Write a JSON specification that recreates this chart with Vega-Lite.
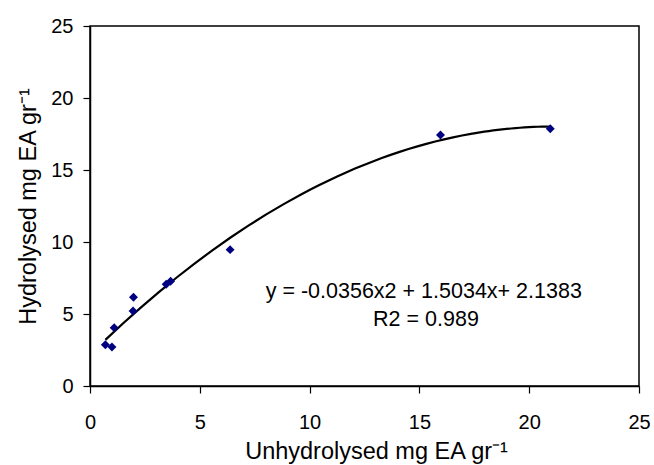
{
  "$schema": "https://vega.github.io/schema/vega-lite/v6.json",
  "width": 549,
  "height": 360,
  "autosize": {"type": "none"},
  "padding": {"left": 90, "top": 26, "right": 15, "bottom": 79},
  "background": "white",
  "config": {
    "view": {"stroke": "black", "strokeWidth": 1.5},
    "font": "Liberation Sans",
    "axis": {
      "grid": false,
      "domainColor": "black",
      "domainWidth": 1.5,
      "tickColor": "black",
      "tickWidth": 1.2,
      "tickSize": 7,
      "labelColor": "black",
      "titleColor": "black",
      "labelFont": "Liberation Sans",
      "titleFont": "Liberation Sans",
      "labelFontSize": 20,
      "titleFontSize": 23.5,
      "titleFontWeight": "normal"
    }
  },
  "data": {
    "values": [
      {"x": 0.70, "y": 2.87},
      {"x": 1.00, "y": 2.71},
      {"x": 1.10, "y": 4.05},
      {"x": 1.98, "y": 6.16},
      {"x": 1.96, "y": 5.21},
      {"x": 3.47, "y": 7.06},
      {"x": 3.67, "y": 7.27},
      {"x": 6.38, "y": 9.47},
      {"x": 15.96, "y": 17.43},
      {"x": 20.96, "y": 17.87}
    ]
  },
  "layer": [
    {
      "transform": [
        {"regression": "y", "on": "x", "method": "poly", "order": 2, "extent": [0.7, 21]}
      ],
      "mark": {"type": "line", "color": "black", "strokeWidth": 2.2},
      "encoding": {
        "x": {"field": "x", "type": "quantitative"},
        "y": {"field": "y", "type": "quantitative"}
      }
    },
    {
      "mark": {"type": "point", "shape": "diamond", "filled": true, "color": "#000080", "size": 80, "opacity": 1},
      "encoding": {
        "x": {
          "field": "x",
          "type": "quantitative",
          "scale": {"domain": [0, 25], "nice": false, "zero": true},
          "axis": {"values": [0, 5, 10, 15, 20, 25], "title": "Unhydrolysed mg EA gr⁻¹", "labelPadding": 19, "titlePadding": 7, "labelFlush": false, "titleX": 286, "titleAlign": "center"}
        },
        "y": {
          "field": "y",
          "type": "quantitative",
          "scale": {"domain": [0, 25], "nice": false, "zero": true},
          "axis": {"values": [0, 5, 10, 15, 20, 25], "title": "Hydrolysed  mg EA gr⁻¹", "labelPadding": 10, "titlePadding": 10}
        }
      }
    },
    {
      "data": {
        "values": [
          {"tx": 15.2, "ty": 6.53, "label": "y = -0.0356x2 + 1.5034x+ 2.1383"},
          {"tx": 15.3, "ty": 4.6, "label": "R2 = 0.989"}
        ]
      },
      "mark": {"type": "text", "fontSize": 21.5, "color": "black", "align": "center", "baseline": "middle", "font": "Liberation Sans"},
      "encoding": {
        "x": {"field": "tx", "type": "quantitative"},
        "y": {"field": "ty", "type": "quantitative"},
        "text": {"field": "label"}
      }
    }
  ]
}
